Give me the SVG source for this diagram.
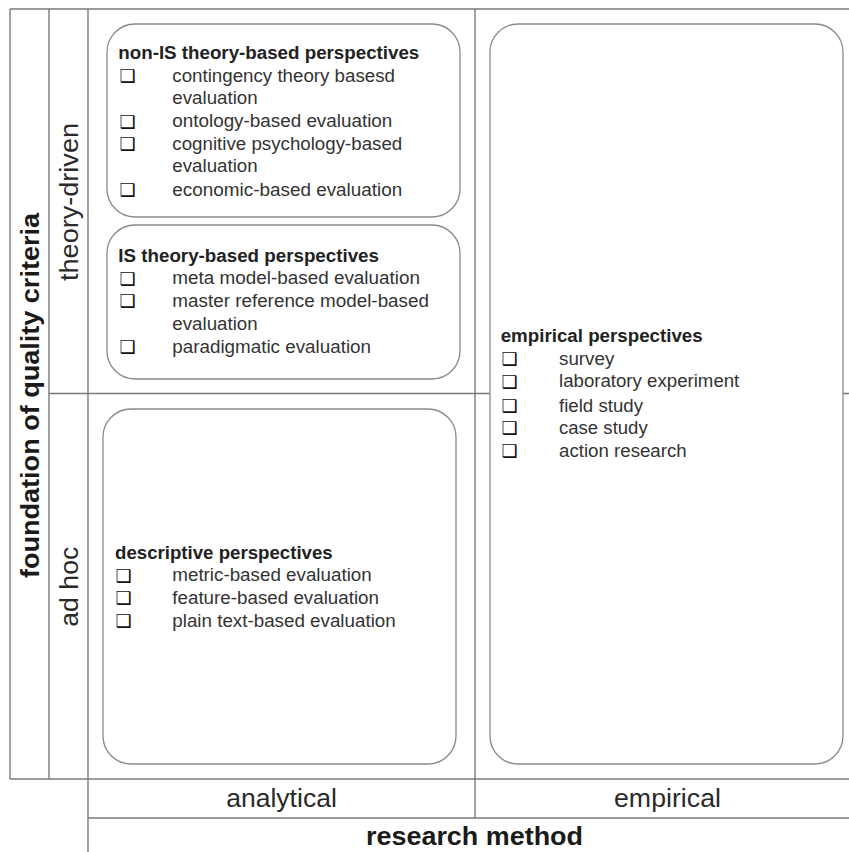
<svg xmlns="http://www.w3.org/2000/svg" width="849" height="852" viewBox="0 0 849 852">
<style>
.ln{stroke:#7a7a7a;stroke-width:1.4;fill:none}
.bx{stroke:#8a8a8a;stroke-width:1.3;fill:#fff}
.t{font-family:"Liberation Sans",Arial,sans-serif;fill:#333;font-size:17.5px}
.h{font-family:"Liberation Sans",Arial,sans-serif;fill:#222;font-size:17.5px;font-weight:bold}
.cb{font-family:"DejaVu Sans",sans-serif;fill:#111;font-size:18px}
.ax{font-family:"Liberation Sans",Arial,sans-serif;fill:#2a2a2a;font-size:26.5px;text-anchor:middle}
.axb{font-family:"Liberation Sans",Arial,sans-serif;fill:#1a1a1a;font-size:25px;font-weight:bold;text-anchor:middle}
</style>
<rect width="849" height="852" fill="#fff"/>
<g id="grid">
<line class="ln" x1="10" y1="9" x2="849" y2="9"/>
<line class="ln" x1="10" y1="9" x2="10" y2="779"/>
<line class="ln" x1="49" y1="9" x2="49" y2="779"/>
<line class="ln" x1="88" y1="9" x2="88" y2="852"/>
<line class="ln" x1="475" y1="9" x2="475" y2="818"/>
<line class="ln" x1="49" y1="393.5" x2="849" y2="393.5"/>
<line class="ln" x1="10" y1="779" x2="849" y2="779"/>
<line class="ln" x1="88" y1="818" x2="849" y2="818"/>
</g>
<g id="axis-labels">
<text class="axb" transform="translate(39,395.5) rotate(-90)" textLength="365" lengthAdjust="spacingAndGlyphs">foundation of quality criteria</text>
<text class="ax" transform="translate(78,202) rotate(-90)" textLength="158" lengthAdjust="spacingAndGlyphs">theory-driven</text>
<text class="ax" transform="translate(77.5,586.7) rotate(-90)" textLength="80" lengthAdjust="spacingAndGlyphs">ad hoc</text>
<text class="ax" x="281.5" y="807" textLength="110.7" lengthAdjust="spacingAndGlyphs">analytical</text>
<text class="ax" x="667.5" y="807" textLength="107" lengthAdjust="spacingAndGlyphs">empirical</text>
<text class="axb" x="474.5" y="845" textLength="217" lengthAdjust="spacingAndGlyphs">research method</text>
</g>
<g id="non-is">
<rect class="bx" x="107" y="24" width="353" height="193" rx="28"/>
<text class="h" x="118.3" y="59" textLength="301" lengthAdjust="spacingAndGlyphs">non-IS theory-based perspectives</text>
<text class="cb" x="119.5" y="82">❑</text>
<text class="t" x="172.3" y="81.7" textLength="222.7" lengthAdjust="spacingAndGlyphs">contingency theory basesd</text>
<text class="t" x="172.3" y="104" textLength="85.4" lengthAdjust="spacingAndGlyphs">evaluation</text>
<text class="cb" x="119.5" y="127.6">❑</text>
<text class="t" x="172.3" y="127.3" textLength="220" lengthAdjust="spacingAndGlyphs">ontology-based evaluation</text>
<text class="cb" x="119.5" y="150.3">❑</text>
<text class="t" x="172.3" y="150" textLength="230" lengthAdjust="spacingAndGlyphs">cognitive psychology-based</text>
<text class="t" x="172.3" y="172.3" textLength="85.4" lengthAdjust="spacingAndGlyphs">evaluation</text>
<text class="cb" x="119.5" y="196.3">❑</text>
<text class="t" x="172.3" y="196" textLength="230" lengthAdjust="spacingAndGlyphs">economic-based evaluation</text>
</g>
<g id="is">
<rect class="bx" x="107" y="225" width="353" height="154" rx="28"/>
<text class="h" x="118.3" y="261.7" textLength="260.7" lengthAdjust="spacingAndGlyphs">IS theory-based perspectives</text>
<text class="cb" x="119.5" y="284.6">❑</text>
<text class="t" x="172.3" y="284.3" textLength="247.7" lengthAdjust="spacingAndGlyphs">meta model-based evaluation</text>
<text class="cb" x="119.5" y="307.3">❑</text>
<text class="t" x="172.3" y="307" textLength="256.7" lengthAdjust="spacingAndGlyphs">master reference model-based</text>
<text class="t" x="172.3" y="330" textLength="85.4" lengthAdjust="spacingAndGlyphs">evaluation</text>
<text class="cb" x="119.5" y="353">❑</text>
<text class="t" x="172.3" y="352.7" textLength="198.7" lengthAdjust="spacingAndGlyphs">paradigmatic evaluation</text>
</g>
<g id="descriptive">
<rect class="bx" x="103" y="409" width="353" height="355" rx="28"/>
<text class="h" x="115" y="559" textLength="217.7" lengthAdjust="spacingAndGlyphs">descriptive perspectives</text>
<text class="cb" x="115.5" y="581.6">❑</text>
<text class="t" x="172.3" y="581.3" textLength="199.4" lengthAdjust="spacingAndGlyphs">metric-based evaluation</text>
<text class="cb" x="115.5" y="604.3">❑</text>
<text class="t" x="172.3" y="604" textLength="206.7" lengthAdjust="spacingAndGlyphs">feature-based evaluation</text>
<text class="cb" x="115.5" y="627">❑</text>
<text class="t" x="172.3" y="626.7" textLength="223.4" lengthAdjust="spacingAndGlyphs">plain text-based evaluation</text>
</g>
<g id="empirical">
<rect class="bx" x="490" y="24" width="353" height="740" rx="28"/>
<text class="h" x="500.7" y="341.7" textLength="202" lengthAdjust="spacingAndGlyphs">empirical perspectives</text>
<text class="cb" x="501.5" y="365.3">❑</text>
<text class="t" x="559" y="365" textLength="55.3" lengthAdjust="spacingAndGlyphs">survey</text>
<text class="cb" x="501.5" y="387.6">❑</text>
<text class="t" x="559" y="387.3" textLength="180.3" lengthAdjust="spacingAndGlyphs">laboratory experiment</text>
<text class="cb" x="501.5" y="412">❑</text>
<text class="t" x="559" y="411.7" textLength="84" lengthAdjust="spacingAndGlyphs">field study</text>
<text class="cb" x="501.5" y="434.3">❑</text>
<text class="t" x="559" y="434" textLength="88.7" lengthAdjust="spacingAndGlyphs">case study</text>
<text class="cb" x="501.5" y="457">❑</text>
<text class="t" x="559" y="456.7" textLength="127.7" lengthAdjust="spacingAndGlyphs">action research</text>
</g>
</svg>
